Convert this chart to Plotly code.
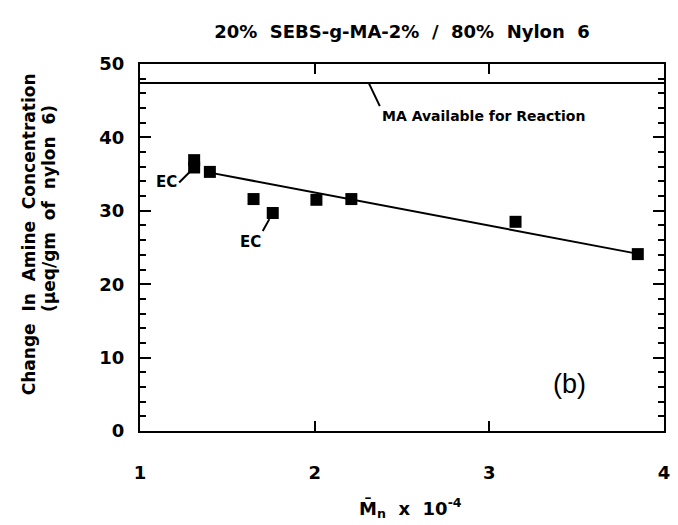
import plotly.graph_objects as go

# data
mn_x = [1.31, 1.31, 1.40, 1.65, 1.76, 2.01, 2.21, 3.15, 3.85]
amine_y = [36.9, 35.9, 35.3, 31.6, 29.7, 31.5, 31.6, 28.5, 24.1]
fit_x = [1.40, 3.86]
fit_y = [35.2, 24.1]
ma_available = 47.4
x_ticks = [1, 2, 3, 4]
y_ticks = [0, 10, 20, 30, 40, 50]

FONT = "'DejaVu Sans', Arial, sans-serif"

fig = go.Figure()
fig.add_trace(go.Scatter(x=[1, 4], y=[ma_available, ma_available], mode="lines",
                         line=dict(color="black", width=2), showlegend=False, hoverinfo="skip"))
fig.add_trace(go.Scatter(x=fit_x, y=fit_y, mode="lines",
                         line=dict(color="black", width=2), showlegend=False))
fig.add_trace(go.Scatter(x=mn_x, y=amine_y, mode="markers",
                         marker=dict(symbol="square", size=12, color="black"), showlegend=False))

L, R, T, B = 140, 670, 64, 431
PW, PH = R - L, B - T

fig.update_layout(
    width=678, height=525,
    margin=dict(l=L, r=678 - R, t=T, b=525 - B),
    paper_bgcolor="white", plot_bgcolor="white",
    font=dict(family=FONT, color="black"),
    title=dict(text="<b>20%  SEBS-g-MA-2%  /  80%  Nylon  6</b>", x=402 / 678, xanchor="center",
               y=1 - 32 / 525, yanchor="middle", font=dict(size=18, family=FONT)),
)
fig.update_xaxes(range=[1, 4], tickvals=x_ticks, ticktext=[f"<b>{v}</b>" for v in x_ticks],
                 showgrid=False, zeroline=False, showline=True, linecolor="black", linewidth=2,
                 mirror="ticks", ticks="inside", ticklen=10, tickwidth=2, tickcolor="black",
                 tickfont=dict(size=18), ticklabelstandoff=24)
fig.update_yaxes(range=[0, 50], tickvals=y_ticks, ticktext=[f"<b>{v}</b>" for v in y_ticks],
                 showgrid=False, zeroline=False, showline=True, linecolor="black", linewidth=2,
                 mirror="ticks", ticks="inside", ticklen=11, tickwidth=2, tickcolor="black",
                 minor=dict(dtick=2, ticks="inside", ticklen=6, tickwidth=2, tickcolor="black"),
                 tickfont=dict(size=18), ticklabelstandoff=10)

ann = []
# axis titles
ann.append(dict(text="<b>Change  In  Amine  Concentration</b>", xref="paper", yref="paper",
                x=-(L - 28) / PW, y=(B - 234) / PH, textangle=-90, showarrow=False,
                font=dict(size=17), xanchor="center", yanchor="middle"))
ann.append(dict(text="<b>(µeq/gm  of  nylon  6)</b>", xref="paper", yref="paper",
                x=-(L - 48) / PW, y=(B - 209) / PH, textangle=-90, showarrow=False,
                font=dict(size=17), xanchor="center", yanchor="middle"))
ann.append(dict(text="<b>M̄<sub>n</sub>  x  10<sup>-4</sup></b>", xref="paper", yref="paper",
                x=(414 - L) / PW, y=-(508 - B) / PH, showarrow=False,
                font=dict(size=18), xanchor="center", yanchor="middle"))
# labels inside plot
ann.append(dict(text="<b>MA Available for Reaction</b>", x=2.31, y=ma_available,
                ax=11, ay=23, xanchor="left", yanchor="top", showarrow=True, arrowhead=0,
                arrowwidth=2, arrowcolor="black", font=dict(size=14)))
ann.append(dict(text="<b>EC</b>", x=mn_x[1], y=amine_y[1], ax=-15, ay=15,
                xanchor="right", yanchor="middle", showarrow=True, arrowhead=0, standoff=6,
                arrowwidth=2, arrowcolor="black", font=dict(size=15)))
ann.append(dict(text="<b>EC</b>", x=mn_x[4], y=amine_y[4], ax=-10, ay=18,
                xanchor="right", yanchor="top", showarrow=True, arrowhead=0, standoff=7,
                arrowwidth=2, arrowcolor="black", font=dict(size=15)))
ann.append(dict(text="(b)", xref="paper", yref="paper", x=(574 - L) / PW, y=(B - 384) / PH,
                showarrow=False, font=dict(size=27, family="Arial, 'Liberation Sans', sans-serif"),
                xanchor="center", yanchor="middle"))
fig.update_layout(annotations=ann)

fig.write_html("out.html")
